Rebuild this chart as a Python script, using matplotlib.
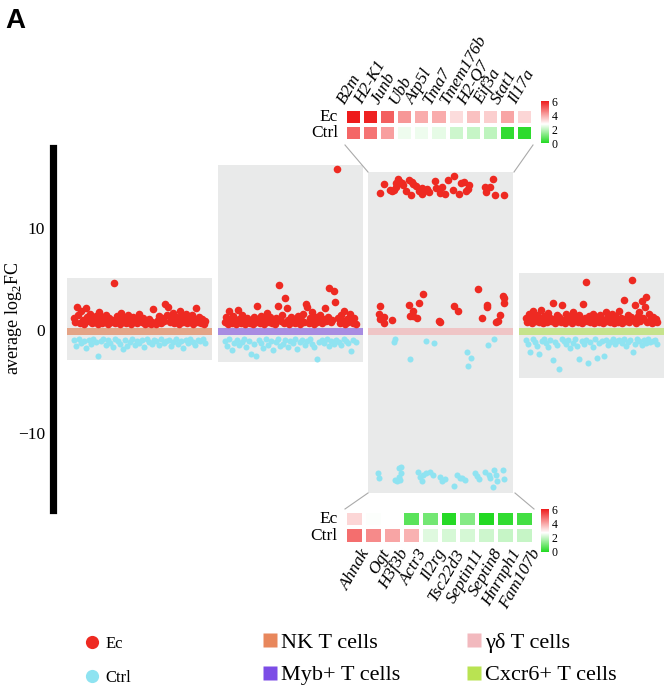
import matplotlib.pyplot as plt
import numpy as np
from matplotlib.colors import LinearSegmentedColormap
from matplotlib.lines import Line2D

plt.rcParams['font.family'] = ['Liberation Serif', 'DejaVu Serif']
plt.rcParams['mathtext.fontset'] = 'custom'
plt.rcParams['mathtext.rm'] = 'Liberation Serif'

W, H = 666, 691

# ---- data ----
clusters = ["NK T cells", "Myb+ T cells", "γδ T cells", "Cxcr6+ T cells"]
legend_colors = ["#E8875C", "#7C4DE6", "#F2B9BE", "#B9E352"]
bar_colors = ["#E4A487", "#A88CE2", "#EFC5C6", "#C6E38C"]
panel_top = [5.12, 16.15, 15.46, 5.61]
panel_bottom = [-2.83, -3.07, -15.85, -4.63]

nk_ec = [1.2, 0.8, 2.3, 1.5, 0.7, 1.9, 1.0, 0.6, 2.2, 1.3, 0.9, 1.6, 0.7, 1.1, 0.8,
         1.4, 0.6, 1.8, 1.0, 0.7, 1.3, 0.9, 1.5, 0.6, 1.2, 0.8, 1.0, 4.6, 0.7, 1.4,
         1.1, 0.6, 1.7, 0.9, 1.2, 0.7, 1.0, 1.5, 0.8, 0.6, 1.3, 0.9, 1.1, 0.7, 1.6,
         1.0, 0.8, 1.2, 0.6, 0.9, 0.7, 1.1, 0.6, 0.8, 2.1, 0.7, 0.6, 1.0, 1.4, 0.7,
         1.2, 0.9, 2.6, 1.5, 2.3, 0.8, 1.1, 1.7, 0.7, 1.3, 1.0, 0.6, 1.9, 1.4, 0.8,
         1.1, 1.6, 0.7, 1.2, 0.9, 1.5, 0.6, 1.0, 2.2, 0.8, 1.3, 0.7, 1.1, 0.6, 0.9]
nk_ctrl = [-0.9, -1.5, -0.8, -1.2, -1.0, -1.7, -0.9, -1.3, -0.8, -1.1, -2.5, -1.0,
           -0.8, -1.4, -0.9, -1.2, -1.6, -0.8, -1.0, -1.3, -1.8, -0.9, -1.5, -1.1,
           -0.8, -1.4, -1.0, -1.2, -0.9, -1.6, -0.8, -1.1, -1.3, -0.9, -1.0, -1.4,
           -0.8, -1.2, -1.0, -0.9, -1.5, -1.1, -0.8, -1.3, -1.0, -1.7, -0.9, -1.2,
           -0.8, -1.1, -1.4, -0.9, -1.0, -0.8, -1.2]

myb_ec = [0.8, 1.3, 0.6, 1.9, 1.0, 0.7, 1.4, 0.9, 0.6, 2.0, 1.1, 0.7, 1.5, 0.8, 0.6,
          1.2, 0.9, 0.7, 1.0, 0.6, 1.3, 0.8, 2.4, 1.0, 0.7, 1.4, 0.9, 0.6, 1.1, 1.7,
          0.8, 1.3, 0.7, 1.0, 0.6, 1.2, 2.4, 4.4, 0.9, 1.5, 0.7, 3.2, 2.2, 1.0, 0.6,
          1.3, 0.8, 1.1, 0.7, 0.9, 1.4, 0.6, 1.0, 1.6, 0.8, 2.6, 2.3, 0.7, 1.2, 1.8,
          0.9, 0.6, 1.3, 0.8, 1.0, 1.5, 0.7, 1.1, 2.2, 0.9, 1.3, 4.1, 0.8, 1.0, 3.9,
          2.8, 15.75, 1.2, 0.7, 1.5, 0.9, 1.9, 0.6, 1.1, 0.8, 1.6, 1.0, 0.7, 1.2, 0.6]
myb_ctrl = [-1.0, -1.5, -0.8, -1.9, -1.2, -0.9, -1.4, -1.1, -0.8, -1.6, -1.0, -2.3,
            -1.3, -2.5, -0.9, -1.2, -1.7, -0.8, -1.4, -1.0, -1.9, -1.1, -0.8, -1.5,
            -1.3, -0.9, -1.6, -1.0, -1.2, -0.8, -1.8, -1.1, -0.9, -1.4, -1.0, -0.8,
            -1.3, -1.6, -2.8, -1.1, -0.9, -1.2, -0.8, -1.5, -1.0, -1.3, -0.9, -1.1,
            -1.4, -0.8, -1.0, -1.2, -2.0, -0.9, -1.1]

# γδ cluster is sparse: position within panel (0..1) and value
gd_ec_pos = [0.078, 0.11, 0.163, 0.18, 0.193, 0.202, 0.216, 0.232, 0.278, 0.30, 0.31,
             0.26, 0.294, 0.331, 0.347, 0.37, 0.38, 0.405, 0.416, 0.372, 0.462, 0.469,
             0.497, 0.508, 0.531, 0.547, 0.588, 0.584, 0.623, 0.639, 0.657, 0.676,
             0.692, 0.685, 0.807, 0.814, 0.837, 0.86, 0.876, 0.938, 0.19, 0.205,
             0.24, 0.15,
             0.078, 0.076, 0.083, 0.11, 0.11, 0.163, 0.278, 0.285, 0.308, 0.31,
             0.333, 0.352, 0.379, 0.49, 0.494, 0.59, 0.62, 0.756, 0.786, 0.818,
             0.818, 0.878, 0.894, 0.905, 0.929, 0.934, 0.936]
gd_ec = [13.4, 14.3, 13.6, 13.7, 14.4, 14.8, 14.5, 14.4, 14.7, 14.5, 14.3,
         13.6, 13.2, 14.1, 13.6, 13.9, 13.5, 13.8, 13.5, 13.3, 14.6, 13.9,
         13.4, 14.0, 13.3, 14.7, 15.1, 13.7, 13.3, 14.4, 14.5, 13.6,
         14.2, 13.8, 14.0, 13.5, 14.0, 14.8, 13.2, 13.2, 14.0, 14.6,
         14.2, 13.7,
         2.35, 1.6, 1.1, 1.34, 0.73, 1.05, 2.48, 1.44, 1.93, 1.37,
         1.18, 2.67, 3.54, 0.95, 0.8, 2.35, 1.93, 4.03, 1.18, 2.5,
         2.3, 0.86, 0.95, 1.53, 3.38, 2.73, 3.2]
gd_ctrl_pos = [0.186, 0.179, 0.285, 0.40, 0.455, 0.68, 0.71, 0.685, 0.823, 0.864,
               0.064, 0.07, 0.186, 0.21, 0.225, 0.214, 0.225, 0.20, 0.218, 0.34,
               0.356, 0.367, 0.378, 0.40, 0.425, 0.447, 0.497, 0.508, 0.53, 0.588,
               0.61, 0.63, 0.645, 0.669, 0.738, 0.75, 0.76, 0.807, 0.83, 0.84,
               0.864, 0.88, 0.885, 0.857, 0.926, 0.938]
gd_ctrl = [-0.83, -1.15, -2.77, -0.99, -1.21, -2.06, -2.67, -3.51, -1.38, -0.83,
           -13.9, -14.35, -14.6, -14.25, -13.9, -13.45, -13.3, -14.7, -14.6, -13.8,
           -14.3, -14.7, -14.1, -13.9, -13.85, -14.1, -14.3, -14.7, -14.5, -15.2,
           -14.1, -14.35, -14.4, -14.6, -13.9, -14.2, -14.5, -13.8, -14.1, -14.4,
           -13.6, -14.1, -14.7, -15.3, -13.6, -14.5]

cx_ec = [1.2, 0.8, 1.6, 1.0, 0.7, 1.9, 1.3, 0.9, 1.5, 0.8, 1.1, 2.0, 0.7, 1.4, 1.0,
         0.8, 1.7, 1.2, 0.9, 2.7, 1.1, 0.7, 1.5, 0.9, 1.3, 0.8, 2.5, 1.0, 0.7, 1.6,
         1.2, 0.9, 1.4, 0.7, 1.8, 1.0, 1.3, 0.8, 1.5, 1.1, 0.7, 2.6, 1.2, 4.7, 0.9,
         1.4, 0.8, 1.1, 1.6, 0.7, 1.3, 1.0, 0.8, 1.5, 1.2, 0.7, 1.0, 1.8, 0.9, 1.3,
         0.8, 1.1, 1.6, 0.7, 1.4, 1.0, 0.8, 1.9, 1.2, 0.7, 3.0, 1.1, 0.9, 1.5, 0.8,
         1.3, 4.9, 1.0, 2.5, 0.7, 1.4, 1.8, 0.9, 2.9, 1.2, 2.3, 3.3, 0.8, 1.6, 1.0,
         0.7, 1.3, 0.9, 1.1, 0.8]
cx_ctrl = [-0.9, -1.3, -2.1, -0.8, -1.1, -1.5, -2.3, -1.0, -0.8, -1.2, -1.6, -0.9,
           -2.9, -1.1, -1.4, -3.8, -0.8, -1.0, -1.3, -0.9, -1.7, -1.2, -0.8, -1.5,
           -2.8, -1.0, -1.3, -0.9, -3.2, -1.1, -1.6, -0.8, -2.7, -1.2, -1.0, -2.5,
           -0.9, -1.4, -1.1, -0.8, -1.3, -1.0, -0.9, -1.2, -0.8, -1.5, -1.1, -0.9,
           -2.1, -1.3, -0.8, -1.0, -1.4, -0.9, -1.2, -0.8, -1.1, -1.0, -0.9, -1.3]

top_genes = ["B2m", "H2-K1", "Junb", "Ubb", "Atp5l", "Tma7", "Tmem176b", "H2-Q7",
             "Eif3a", "Stat1", "Il17a"]
top_ec = [6.0, 5.9, 5.0, 4.2, 3.9, 3.9, 3.2, 3.6, 3.4, 4.0, 3.3]
top_ctrl = [4.9, 4.7, 4.1, 2.5, 2.5, 2.4, 2.1, 2.0, 1.9, 0.2, 0.15]
bot_genes = ["Ahnak", "Ogt", "H3f3b", "Actr3", "Il2rg", "Tsc22d3", "Septin11",
             "Septin8", "Hnrnph1", "Fam107b"]
bot_ec = [3.3, 2.65, 2.7, 0.7, 1.0, 0.05, 1.2, 0.0, 0.2, 0.4]
bot_ctrl = [4.8, 4.4, 4.0, 3.8, 2.3, 2.2, 2.2, 2.1, 2.0, 2.0]

RED = "#EE2A22"
CYAN = "#8FE3F1"
GREY = "#E9EAEA"
PW = 0.962  # panel width


def px(l, t, r, b):
    return [l / W, 1 - b / H, (r - l) / W, (b - t) / H]


fig = plt.figure(figsize=(W / 100, H / 100), dpi=100)
ax = fig.add_axes(px(53.5, 140, 666, 515))

xs = np.arange(4)
ax.bar(xs, np.array(panel_top) - np.array(panel_bottom), bottom=panel_bottom,
       width=PW, color=GREY, zorder=0)
ax.bar(xs, 0.7, bottom=-0.45, width=PW, color=bar_colors, zorder=1)

dense = [(0, nk_ec, nk_ctrl), (1, myb_ec, myb_ctrl), (3, cx_ec, cx_ctrl)]
for i, ec, ctrl in dense:
    ax.scatter(i + np.linspace(-0.435, 0.435, len(ctrl)), ctrl, s=19, color=CYAN,
               lw=0, zorder=2)
    ax.scatter(i + np.linspace(-0.435, 0.435, len(ec)), ec, s=30, color=RED,
               lw=0, zorder=3)
ax.scatter(2 + (np.array(gd_ctrl_pos) - 0.5) * PW, gd_ctrl, s=19, color=CYAN,
           lw=0, zorder=2)
ax.scatter(2 + (np.array(gd_ec_pos) - 0.5) * PW, gd_ec, s=30, color=RED,
           lw=0, zorder=3)

ax.set_xlim(-0.5707, 3.494)
ax.set_ylim(-18.0, 18.585)
for s in ["top", "right", "bottom"]:
    ax.spines[s].set_visible(False)
ax.spines["left"].set_linewidth(5.2)
ax.spines["left"].set_bounds(-17.5, 17.8)
ax.set_xticks([])
ax.set_yticks([-10, 0, 10])
ax.tick_params(axis="y", length=0, pad=6, labelsize=12.5)
ax.patch.set_visible(False)
ax.set_ylabel("average log$_2$FC", fontsize=13)
ax.yaxis.set_label_coords(-0.048, 0.525)

cmap = LinearSegmentedColormap.from_list(
    "gwr", [(0, "#22D922"), (0.45, "#FFFFFF"), (1, "#EE1B1B")])


def heatmap(rect, genes, ec, ctrl, cbar_rect, top):
    hx = fig.add_axes(px(*rect))
    z = np.array([ctrl, ec])
    m = hx.pcolormesh(z, cmap=cmap, vmin=0, vmax=6, edgecolors="white",
                      linewidth=1.5)
    hx.set_xlim(0, len(genes))
    hx.set_ylim(0, 2)
    hx.axis("off")
    hx.text(-0.4, 1.5, "Ec", ha="right", va="center", fontsize=12.5)
    hx.text(-0.4, 0.5, "Ctrl", ha="right", va="center", fontsize=12.5)
    for j, g in enumerate(genes):
        if top:
            hx.text(j + 0.2, 2.1, g, rotation=60, rotation_mode="anchor",
                    ha="left", va="bottom", style="italic", fontsize=12.5)
        else:
            hx.text(j + 0.8, -0.12, g, rotation=60, rotation_mode="anchor",
                    ha="right", va="top", style="italic", fontsize=12.5)
    cax = fig.add_axes(px(*cbar_rect))
    cb = fig.colorbar(m, cax=cax, ticks=[0, 2, 4, 6])
    cb.outline.set_visible(False)
    cax.tick_params(length=0, labelsize=8.5, pad=2)


heatmap((345, 109, 533, 140.5), top_genes, top_ec, top_ctrl,
        (541, 101, 549, 143), True)
heatmap((345, 510.5, 534, 544), bot_genes, bot_ec, bot_ctrl,
        (541, 509, 549, 552), False)

# connector lines between heatmaps and the γδ panel
for (x0, y0), (x1, y1) in [((345, 145), (368, 172)), ((533, 145), (514, 172)),
                           ((345, 509), (368, 493)), ((534, 509), (515, 493))]:
    fig.add_artist(Line2D([x0 / W, x1 / W], [1 - y0 / H, 1 - y1 / H],
                          color="#AAAAAA", lw=0.8))

# legends
dot_h = [Line2D([], [], ls="none", marker="o", ms=9.5, color=c, mec="none")
         for c in (RED, CYAN)]
fig.legend(dot_h, ["Ec", "Ctrl"], loc="upper left",
           bbox_to_anchor=(84 / W, 1 - 636 / H), frameon=False, fontsize=12,
           handlelength=1.0, handletextpad=0.3, labelspacing=1.05, borderpad=0,
           borderaxespad=0)
sq_h = [Line2D([], [], ls="none", marker="s", ms=10, color=c, mec="none")
        for c in legend_colors]
for k, x0 in enumerate([262.5, 466.5]):
    fig.legend(sq_h[2 * k:2 * k + 2], clusters[2 * k:2 * k + 2], loc="upper left",
               bbox_to_anchor=(x0 / W, 1 - 632 / H), frameon=False,
               fontsize=16, handlelength=0.7, handletextpad=0.15,
               labelspacing=0.55, borderpad=0, borderaxespad=0)

fig.text(5 / W, 1 - 28 / H, "A", fontsize=20, fontweight="bold",
         family="Liberation Sans", va="baseline")

fig.savefig("out.png", dpi=100)
